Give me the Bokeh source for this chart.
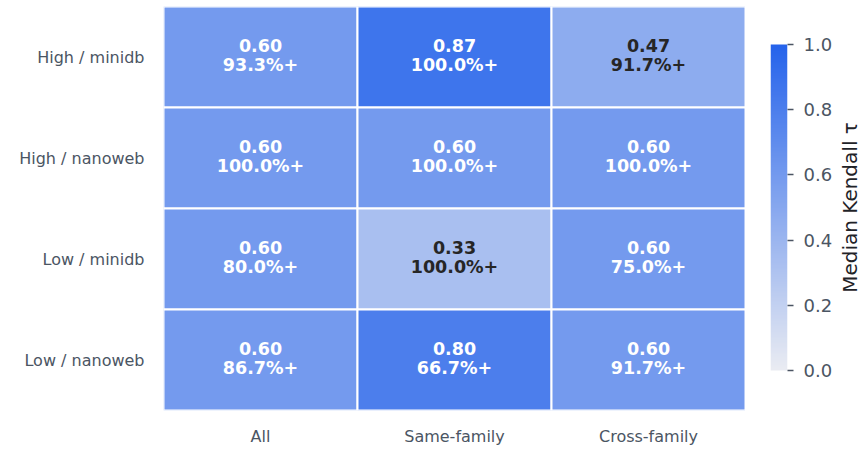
import math
import numpy as np
from bokeh.plotting import figure
from bokeh.layouts import row
from bokeh.models import (ColumnDataSource, LinearColorMapper, FixedTicker,
                          PrintfTickFormatter, FactorRange, Range1d)
from bokeh.core.properties import value
from bokeh.embed import file_html
from bokeh.resources import INLINE

# ---- data ----
rows = ["High / minidb", "High / nanoweb", "Low / minidb", "Low / nanoweb"]
cols = ["All", "Same-family", "Cross-family"]
tau_all = [0.60, 0.60, 0.60, 0.60]
tau_same = [0.87, 0.60, 0.33, 0.80]
tau_cross = [0.47, 0.60, 0.60, 0.60]
pct_all = [93.3, 100.0, 80.0, 86.7]
pct_same = [100.0, 100.0, 100.0, 66.7]
pct_cross = [91.7, 100.0, 75.0, 91.7]
cbar_ticks = [0.0, 0.2, 0.4, 0.6, 0.8, 1.0]
cbar_title = "Median Kendall τ"

# ---- palette (light -> blue) ----
lo = np.array([234, 236, 242])
hi = np.array([37, 99, 235])
palette = ["#%02x%02x%02x" % tuple(int(round(c)) for c in lo + (hi - lo) * t)
           for t in np.linspace(0, 1, 256)]
mapper = LinearColorMapper(palette=palette, low=0.0, high=1.0)

xs, ys, taus, pcts = [], [], [], []
for c, tv, pv in zip(cols, [tau_all, tau_same, tau_cross], [pct_all, pct_same, pct_cross]):
    for r, t, pc in zip(rows, tv, pv):
        xs.append(c); ys.append(r); taus.append(t); pcts.append(pc)

src = ColumnDataSource(dict(
    x=xs, y=ys, tau=taus,
    tlabel=["%.2f" % t for t in taus],
    plabel=["%.1f%%+" % p for p in pcts],
    tcolor=["#ffffff" if t >= 0.55 else "#262626" for t in taus],
))

FONT = "DejaVu Sans"
LABEL_COLOR = "#4b5563"
TOP, BOTTOM, FRAME_H = 6, 42, 404

p = figure(x_range=FactorRange(*cols), y_range=FactorRange(*rows[::-1]),
           frame_width=582, frame_height=FRAME_H,
           min_border_left=163, min_border_right=0, min_border_top=TOP, min_border_bottom=BOTTOM,
           output_backend="svg", toolbar_location=None)
p.rect(x="x", y="y", width=1, height=1, source=src,
       fill_color={"field": "tau", "transform": mapper},
       line_color="white", line_width=2)
p.text(x="x", y="y", text="tlabel", source=src, text_color="tcolor",
       text_font=value(FONT), text_font_style="bold", text_font_size="17.5px",
       text_align="center", text_baseline="middle", y_offset=-12)
p.text(x="x", y="y", text="plabel", source=src, text_color="tcolor",
       text_font=value(FONT), text_font_style="bold", text_font_size="17.5px",
       text_align="center", text_baseline="middle", y_offset=8)

p.outline_line_color = None
p.grid.grid_line_color = None
for ax in (p.xaxis[0], p.yaxis[0]):
    ax.axis_line_color = None
    ax.major_tick_line_color = None
    ax.minor_tick_line_color = None
    ax.major_tick_out = 0
    ax.major_tick_in = 0
    ax.major_label_text_font = FONT
    ax.major_label_text_font_size = "16px"
    ax.major_label_text_color = LABEL_COLOR
p.xaxis.major_label_standoff = 16
p.yaxis.major_label_standoff = 19
p.x_range.range_padding = 0
p.y_range.range_padding = 0

# ---- colorbar as a narrow figure (frame aligned with heatmap frame) ----
bar_top_px, bar_bot_px = 44 - TOP, 370 - TOP   # bar position inside the frame
scale = bar_bot_px - bar_top_px                  # pixels per unit
y0 = -(FRAME_H - bar_bot_px) / scale
y1 = 1 + bar_top_px / scale
grad = np.linspace(0, 1, 256).reshape(256, 1)
cb = figure(x_range=Range1d(0, 1), y_range=Range1d(y0, y1),
            frame_width=17, frame_height=FRAME_H,
            min_border_left=25, min_border_right=50, min_border_top=TOP, min_border_bottom=BOTTOM,
            y_axis_location="right", output_backend="svg", toolbar_location=None)
cb.image(image=[grad], x=0, y=0, dw=1, dh=1, color_mapper=mapper)
cb.xaxis.visible = False
cb.grid.grid_line_color = None
cb.outline_line_color = None
ya = cb.yaxis[0]
ya.ticker = FixedTicker(ticks=cbar_ticks)
ya.formatter = PrintfTickFormatter(format="%.1f")
ya.axis_line_color = None
ya.major_tick_in = 0
ya.major_tick_out = 6
ya.major_tick_line_color = LABEL_COLOR
ya.major_tick_line_width = 1.5
ya.minor_tick_line_color = None
ya.major_label_text_font = FONT
ya.major_label_text_font_size = "18px"
ya.major_label_text_color = LABEL_COLOR
ya.major_label_standoff = 10

# ---- colorbar title in its own narrow strip ----
tt = figure(x_range=Range1d(0, 1), y_range=Range1d(y0, y1),
            frame_width=25, frame_height=FRAME_H,
            min_border_left=0, min_border_right=0, min_border_top=TOP, min_border_bottom=BOTTOM,
            output_backend="svg", toolbar_location=None)
tt.text(x=[0.5], y=[0.5], text=[cbar_title], angle=math.pi / 2,
        text_font=value(FONT), text_font_size="20px", text_color="#1f2328",
        text_align="center", text_baseline="middle")
tt.axis.visible = False
tt.grid.grid_line_color = None
tt.outline_line_color = None

layout = row(p, cb, tt)
open("out.html", "w").write(file_html(layout, INLINE))
